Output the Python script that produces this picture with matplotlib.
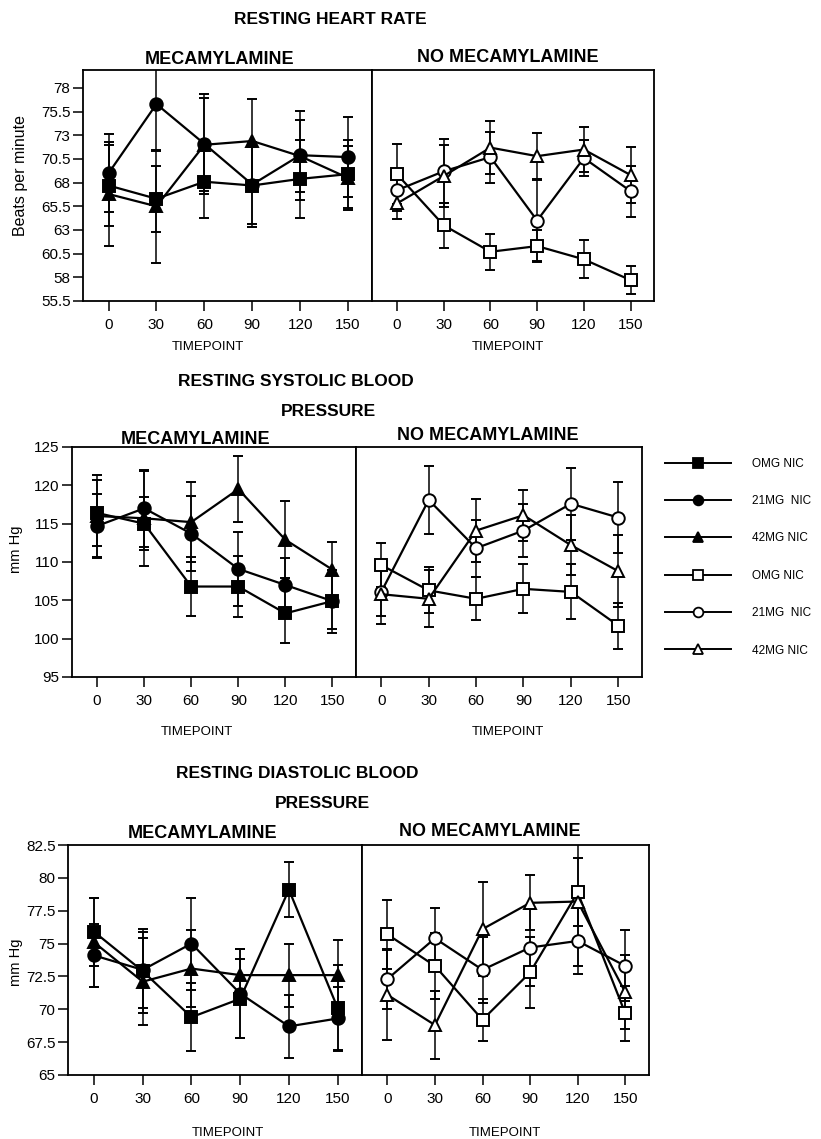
import numpy as np
import matplotlib.pyplot as plt
from matplotlib.lines import Line2D
from matplotlib.ticker import FormatStrFormatter

plt.rcParams['font.family'] = ['Liberation Sans', 'DejaVu Sans']

timepoints = [0, 30, 60, 90, 120, 150]
doses = ['OMG NIC', '21MG  NIC', '42MG NIC']

# resting heart rate (rows: 0, 21, 42 mg nicotine)
hr_mec = [[67.7, 66.3, 68.1, 67.7, 68.4, 68.9],
          [69.0, 76.3, 72.1, 67.8, 70.9, 70.7],
          [66.8, 65.5, 72.0, 72.4, 70.8, 68.5]]
hr_mec_se = [[4.3, 3.5, 3.8, 4.1, 4.1, 3.6],
             [4.1, 5.0, 5.3, 4.5, 4.7, 4.2],
             [5.5, 6.0, 4.9, 4.4, 3.8, 3.4]]
hr_nomec = [[68.9, 63.5, 60.7, 61.3, 59.9, 57.7],
            [67.2, 69.2, 70.7, 64.0, 70.6, 67.1],
            [65.8, 68.7, 71.7, 70.8, 71.5, 68.8]]
hr_nomec_se = [[3.2, 2.4, 1.9, 1.7, 2.0, 1.5],
               [2.2, 3.4, 2.7, 4.3, 1.9, 2.7],
               [1.6, 3.3, 2.8, 2.4, 2.4, 3.0]]

# resting systolic blood pressure
sbp_mec = [[116.4, 115.0, 106.8, 106.8, 103.3, 104.9],
           [114.7, 117.0, 113.7, 109.1, 107.0, 104.9],
           [116.0, 115.7, 115.2, 119.5, 112.9, 109.0]]
sbp_mec_se = [[4.3, 3.5, 3.8, 4.0, 3.9, 4.1],
              [4.2, 5.0, 4.9, 4.8, 3.5, 3.6],
              [5.3, 6.2, 5.2, 4.3, 5.0, 3.6]]
sbp_nomec = [[109.6, 106.3, 105.2, 106.5, 106.1, 101.7],
             [106.1, 118.1, 111.8, 114.1, 117.6, 115.8],
             [105.8, 105.2, 114.1, 116.1, 112.2, 108.8]]
sbp_nomec_se = [[2.9, 3.0, 2.8, 3.2, 3.6, 3.0],
                [3.2, 4.4, 3.7, 3.5, 4.7, 4.6],
                [3.9, 3.7, 4.1, 3.3, 3.9, 4.7]]

# resting diastolic blood pressure
dbp_mec = [[75.9, 72.9, 69.4, 70.8, 79.1, 70.1],
           [74.1, 73.0, 75.0, 71.2, 68.7, 69.3],
           [75.1, 72.1, 73.1, 72.6, 72.6, 72.6]]
dbp_mec_se = [[2.6, 3.2, 2.6, 3.0, 2.1, 3.3],
              [2.4, 2.9, 3.5, 3.4, 2.4, 2.4],
              [3.4, 3.3, 2.9, 2.0, 2.4, 2.7]]
dbp_nomec = [[75.7, 73.3, 69.2, 72.8, 78.9, 69.7],
             [72.3, 75.4, 73.0, 74.7, 75.2, 73.3],
             [71.1, 68.8, 76.1, 78.1, 78.2, 71.3]]
dbp_nomec_se = [[2.6, 2.5, 1.6, 2.7, 2.6, 2.1],
                [2.3, 2.3, 2.5, 2.9, 2.5, 2.7],
                [3.4, 2.6, 3.6, 2.1, 4.9, 2.8]]

markers = ['s', 'o', '^']
W, H = 821, 1139

fig = plt.figure(figsize=(W / 100, H / 100), dpi=100)


def box(x0, y0, x1, y1):
    # pixel box (from top-left) -> figure fraction rect
    return [x0 / W, 1 - y1 / H, (x1 - x0) / W, (y1 - y0) / H]


def ftext(x, y, s, **kw):
    fig.text(x / W, 1 - y / H, s, ha='center', va='center', **kw)


def panel(ax, means, errs, filled):
    for m, e, mk in zip(means, errs, markers):
        ax.errorbar(timepoints, m, yerr=e, color='black', lw=1.6,
                    elinewidth=1.1, capsize=3.8, capthick=1.1, marker=mk,
                    ms=8.5 if mk != 'o' else 9, mfc='black' if filled else 'white',
                    mec='black', mew=1.4)
    ax.set_xlim(-16, 165)
    ax.set_xticks(timepoints)
    ax.tick_params(direction='out', length=7, width=1.1, labelsize=11)
    ax.tick_params(axis='x', pad=5)
    ax.tick_params(axis='y', pad=2)
    for sp in ax.spines.values():
        sp.set_linewidth(1.3)


rows = [
    (hr_mec, hr_mec_se, hr_nomec, hr_nomec_se, (55.5, 79.9), np.arange(55.5, 78.1, 2.5),
     (83, 70, 372, 301), (372, 70, 654, 301)),
    (sbp_mec, sbp_mec_se, sbp_nomec, sbp_nomec_se, (95, 125), np.arange(95, 126, 5),
     (72, 447, 356, 677), (356, 447, 642, 677)),
    (dbp_mec, dbp_mec_se, dbp_nomec, dbp_nomec_se, (65, 82.5), np.arange(65, 82.6, 2.5),
     (68, 845, 362, 1075), (362, 845, 649, 1075)),
]

for mec, mec_se, nomec, nomec_se, ylim, yticks, lb, rb in rows:
    axl = fig.add_axes(box(*lb))
    axr = fig.add_axes(box(*rb))
    panel(axl, mec, mec_se, True)
    panel(axr, nomec, nomec_se, False)
    for ax in (axl, axr):
        ax.set_ylim(*ylim)
    axl.set_yticks(yticks)
    axl.yaxis.set_major_formatter(FormatStrFormatter('%g'))
    axr.set_yticks([])

# y axis labels
ftext(21, 175, 'Beats per minute', fontsize=11.5, rotation=90)
ftext(16, 549, 'mm Hg', fontsize=10.5, rotation=90)
ftext(16, 962, 'mm Hg', fontsize=10.5, rotation=90)

# titles and captions
ftext(330, 20, 'RESTING HEART RATE', fontsize=12.5, fontweight='bold')
ftext(220, 60, 'MECAMYLAMINE', fontsize=13, fontweight='bold')
ftext(508, 58, 'NO MECAMYLAMINE', fontsize=13, fontweight='bold')
ftext(208, 347, 'TIMEPOINT', fontsize=9.5)
ftext(508, 347, 'TIMEPOINT', fontsize=9.5)

ftext(296, 382, 'RESTING SYSTOLIC BLOOD', fontsize=12.5, fontweight='bold')
ftext(328, 412, 'PRESSURE', fontsize=12.5, fontweight='bold')
ftext(196, 439, 'MECAMYLAMINE', fontsize=13, fontweight='bold')
ftext(488, 436, 'NO MECAMYLAMINE', fontsize=13, fontweight='bold')
ftext(197, 732, 'TIMEPOINT', fontsize=9.5)
ftext(508, 732, 'TIMEPOINT', fontsize=9.5)

ftext(297, 773, 'RESTING DIASTOLIC BLOOD', fontsize=12.5, fontweight='bold')
ftext(322, 803, 'PRESSURE', fontsize=12.5, fontweight='bold')
ftext(203, 834, 'MECAMYLAMINE', fontsize=13, fontweight='bold')
ftext(490, 832, 'NO MECAMYLAMINE', fontsize=13, fontweight='bold')
ftext(228, 1133, 'TIMEPOINT', fontsize=9.5)
ftext(505, 1133, 'TIMEPOINT', fontsize=9.5)

# legend
handles = []
for filled in (True, False):
    for mk in markers:
        handles.append(Line2D([], [], color='black', lw=1.4, marker=mk, ms=7,
                              mfc='black' if filled else 'white', mec='black', mew=1.3))
fig.legend(handles, doses + doses, loc='upper left', bbox_to_anchor=(660 / W, 1 - 453 / H),
           frameon=False, fontsize=8.5, handlelength=5.6, handletextpad=1.8,
           labelspacing=2.15, borderaxespad=0)

fig.savefig('out.png', dpi=100)
